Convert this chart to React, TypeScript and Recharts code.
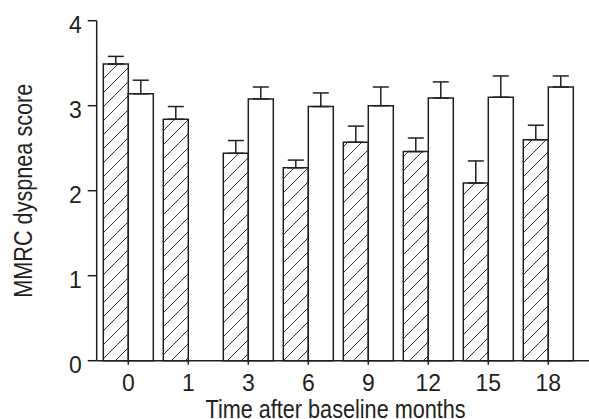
import React from 'react';
import { BarChart, Bar, XAxis, YAxis, ErrorBar, Label } from 'recharts';

const months = ['0', '1', '3', '6', '9', '12', '15', '18'];
const hatchedValues = [3.49, 2.84, 2.44, 2.27, 2.57, 2.46, 2.09, 2.6];
const hatchedErrors = [0.09, 0.15, 0.15, 0.09, 0.19, 0.16, 0.26, 0.17];
const openValues: (number | null)[] = [3.14, null, 3.08, 2.99, 3.0, 3.09, 3.1, 3.22];
const openErrors: (number | null)[] = [0.16, null, 0.14, 0.16, 0.22, 0.19, 0.25, 0.13];
const yTicks = [0, 1, 2, 3, 4];

const data = months.map((m, i) => ({
  month: m,
  hatched: hatchedValues[i],
  hatchedErr: [0, hatchedErrors[i]],
  open: openValues[i],
  openErr: openErrors[i] == null ? null : [0, openErrors[i] as number],
}));

const INK = '#231f20';
const FONT = '"Liberation Sans", Arial, sans-serif';
const TITLE_SIZE = 26.4;
const SQUEEZE = 0.82;

const YLabel = (props: any) => {
  const vb = props.viewBox || {};
  const cx = vb.x - 4.4;
  const cy = vb.y + vb.height / 2;
  return (
    <text
      x={0}
      y={0}
      transform={`translate(${cx}, ${cy}) rotate(-90) scale(${SQUEEZE}, 1)`}
      textAnchor="middle"
      fontSize={TITLE_SIZE}
      fontFamily={FONT}
      fill={INK}
    >
      MMRC dyspnea score
    </text>
  );
};

const XLabel = (props: any) => {
  const vb = props.viewBox || {};
  const cx = vb.x + vb.width / 2 - 7.3;
  const by = vb.y + vb.height + 27.2;
  return (
    <text
      x={0}
      y={0}
      transform={`translate(${cx}, ${by}) scale(${SQUEEZE}, 1)`}
      textAnchor="middle"
      fontSize={TITLE_SIZE}
      fontFamily={FONT}
      fill={INK}
    >
      Time after baseline months
    </text>
  );
};

export default function App() {
  return (
    <div style={{ position: 'absolute', left: 0, top: 0, width: 589, height: 419, background: '#fff' }}>
      <svg width={0} height={0} style={{ position: 'absolute' }}>
        <defs>
          <pattern id="hatch" patternUnits="userSpaceOnUse" width={14} height={14}>
            <rect x={0} y={0} width={14} height={14} fill="#fff" />
            <path d="M0,14 L14,0 M-3.5,3.5 L3.5,-3.5 M10.5,17.5 L17.5,10.5" stroke="#333" strokeWidth={1} />
          </pattern>
        </defs>
      </svg>
      <BarChart
        width={589}
        height={419}
        data={data}
        margin={{ top: 20.7, right: 0, bottom: 28.3, left: 36.7 }}
        barGap={0}
        barSize={25}
      >
        <XAxis
          dataKey="month"
          height={30}
          tickSize={4}
          tickMargin={10.3}
          padding={{ left: 1.6, right: 10.7 }}
          axisLine={{ stroke: INK, strokeWidth: 1.5 }}
          tickLine={{ stroke: INK, strokeWidth: 1.5 }}
          tick={{ fontSize: 23, fontFamily: FONT, fill: INK }}
          label={<XLabel />}
        />
        <YAxis
          width={60}
          domain={[0, 4]}
          ticks={yTicks}
          tickSize={9}
          tickMargin={6}
          axisLine={{ stroke: INK, strokeWidth: 1.5 }}
          tickLine={{ stroke: INK, strokeWidth: 1.5 }}
          tick={{ fontSize: 23, fontFamily: FONT, fill: INK, dy: 4.5 }}
          label={<YLabel />}
        />
        <Bar dataKey="hatched" fill="url(#hatch)" stroke={INK} strokeWidth={1.5} isAnimationActive={false}>
          <ErrorBar dataKey="hatchedErr" direction="y" width={8} stroke={INK} strokeWidth={1.5} />
        </Bar>
        <Bar dataKey="open" fill="#fff" stroke={INK} strokeWidth={1.5} isAnimationActive={false}>
          <ErrorBar dataKey="openErr" direction="y" width={8} stroke={INK} strokeWidth={1.5} />
        </Bar>
      </BarChart>
    </div>
  );
}
